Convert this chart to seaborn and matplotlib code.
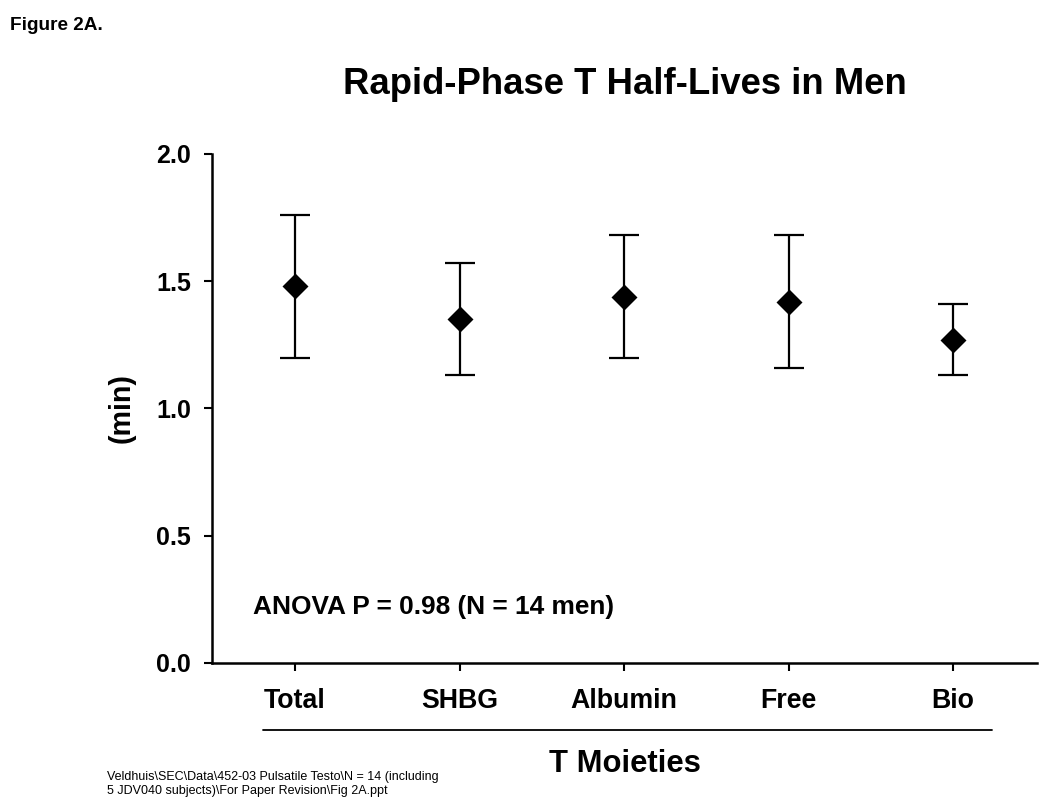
import matplotlib
matplotlib.use("Agg")
import matplotlib.pyplot as plt
from matplotlib.lines import Line2D
import seaborn as sns
import numpy as np
import pandas as pd

categories = ["Total", "SHBG", "Albumin", "Free", "Bio"]
means = [1.48, 1.35, 1.44, 1.42, 1.27]
sem = [0.28, 0.22, 0.24, 0.26, 0.14]
y_ticks = [0.0, 0.5, 1.0, 1.5, 2.0]

sns.set_theme(style="white")
plt.rcParams["font.family"] = ["Liberation Sans", "DejaVu Sans"]
plt.rcParams["text.color"] = "black"
plt.rcParams["axes.labelcolor"] = "black"
plt.rcParams["xtick.color"] = "black"
plt.rcParams["ytick.color"] = "black"

df = pd.DataFrame({"moiety": categories, "half_life": means, "sem": sem})

fig = plt.figure(figsize=(10.5, 8.1), dpi=100)
ax = fig.add_axes([0.2019, 0.1815, 0.7857, 0.6284])

pos = np.arange(len(categories))
ax.errorbar(pos, df["half_life"], yerr=df["sem"], fmt="none", ecolor="black",
            elinewidth=1.6, capsize=11, capthick=1.6, zorder=2)
sns.pointplot(data=df, x="moiety", y="half_life", linestyle="none", markers="D",
              color="black", markersize=11, errorbar=None, ax=ax, zorder=3)

ax.set_xlim(-0.505, 4.51)
ax.set_ylim(0, 2.0)
ax.set_yticks(y_ticks)
ax.set_yticklabels([f"{v:.1f}" for v in y_ticks])
ax.set_xticks(pos)
ax.set_xticklabels(categories)

for s in ["top", "right"]:
    ax.spines[s].set_visible(False)
for s in ["left", "bottom"]:
    ax.spines[s].set_color("black")
    ax.spines[s].set_linewidth(1.8)

ax.tick_params(axis="y", direction="out", length=6, width=1.5, color="black",
               labelsize=18, pad=9, left=True, labelcolor="black")
ax.tick_params(axis="x", direction="out", length=6, width=1.5, color="black",
               labelsize=19.3, pad=12, bottom=True, labelcolor="black")
for lab in ax.get_xticklabels() + ax.get_yticklabels():
    lab.set_fontweight("bold")

ax.set_xlabel("")
ax.set_ylabel("(min)", fontsize=20.6, fontweight="bold", labelpad=15, color="black")

ax.set_title("Rapid-Phase T Half-Lives in Men", fontsize=26.3, fontweight="bold",
             pad=43, color="black")

ax.text(0.05, 0.11, "ANOVA P = 0.98 (N = 14 men)", transform=ax.transAxes,
        fontsize=18.9, fontweight="bold", va="center", ha="left", color="black")

fig.text(0.5948, 0.0565, "T Moieties", fontsize=22.3, fontweight="bold",
         ha="center", va="center", color="black")
fig.add_artist(Line2D([0.2505, 0.9448], [0.0988, 0.0988], transform=fig.transFigure,
                      color="black", linewidth=1.3))

fig.text(0.0095, 0.969, "Figure 2A.", fontsize=13.7, fontweight="bold",
         ha="left", va="center", color="black")
fig.text(0.102, 0.016,
         "Veldhuis\\SEC\\Data\\452-03 Pulsatile Testo\\N = 14 (including\n"
         "5 JDV040 subjects)\\For Paper Revision\\Fig 2A.ppt",
         fontsize=9.0, ha="left", va="bottom", linespacing=1.2, color="black")

fig.savefig("out.png", dpi=100, facecolor="white")
